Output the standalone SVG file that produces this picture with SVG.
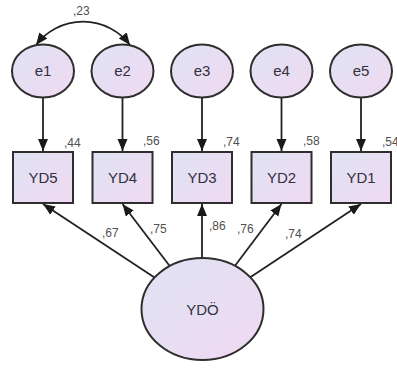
<svg xmlns="http://www.w3.org/2000/svg" width="397" height="370" viewBox="0 0 397 370">
<defs>
<linearGradient id="g" x1="0" y1="0" x2="1" y2="1">
<stop offset="0" stop-color="#dfe3f3"/>
<stop offset="1" stop-color="#f0d9f2"/>
</linearGradient>
<marker id="ah" markerUnits="userSpaceOnUse" markerWidth="14" markerHeight="12" refX="12" refY="5" orient="auto">
<path d="M0,0 L12,5 L0,10 z" fill="#1a1a1a"/>
</marker>
<marker id="ahs" markerUnits="userSpaceOnUse" markerWidth="14" markerHeight="12" refX="0" refY="5" orient="auto">
<path d="M12,0 L0,5 L12,10 z" fill="#1a1a1a"/>
</marker>
<style>
.n{fill:url(#g);stroke:#2e2e2e;stroke-width:2}
.t{font-family:"Liberation Sans",Arial,sans-serif;font-size:15px;fill:#33303f;text-anchor:middle}
.l{font-family:"Liberation Sans",Arial,sans-serif;font-size:12px;fill:#505050}
.c{stroke:#222;stroke-width:1.8;fill:none;marker-end:url(#ah)}
</style>
</defs>
<g id="connectors">
<path d="M36,45 A59,59 0 0,1 130,45" style="stroke:#222;stroke-width:1.6;fill:none;marker-end:url(#ah);marker-start:url(#ahs)"/>
<line class="c" x1="43" y1="98" x2="43" y2="151"/>
<line class="c" x1="122.5" y1="98" x2="122.5" y2="151"/>
<line class="c" x1="202" y1="98" x2="202" y2="151"/>
<line class="c" x1="281.5" y1="98" x2="281.5" y2="151"/>
<line class="c" x1="361" y1="98" x2="361" y2="151"/>
<line class="c" x1="154.5" y1="277.4" x2="43" y2="204"/>
<line class="c" x1="169.7" y1="266" x2="122.5" y2="204"/>
<line class="c" x1="202" y1="258" x2="202" y2="204"/>
<line class="c" x1="235" y1="265.8" x2="281.5" y2="204"/>
<line class="c" x1="250.3" y1="277.3" x2="361" y2="204"/>
<text class="l" x="73" y="15">,23</text>
<text class="l" x="102" y="237">,67</text>
<text class="l" x="150" y="233">,75</text>
<text class="l" x="209" y="230">,86</text>
<text class="l" x="237" y="233">,76</text>
<text class="l" x="285" y="238">,74</text>
</g>
<g id="e1"><ellipse class="n" cx="43" cy="71" rx="31" ry="26.5"/><text class="t" x="43" y="76">e1</text></g>
<g id="e2"><ellipse class="n" cx="122.5" cy="71" rx="31" ry="26.5"/><text class="t" x="122.5" y="76">e2</text></g>
<g id="e3"><ellipse class="n" cx="202" cy="71" rx="31" ry="26.5"/><text class="t" x="202" y="76">e3</text></g>
<g id="e4"><ellipse class="n" cx="281.5" cy="71" rx="31" ry="26.5"/><text class="t" x="281.5" y="76">e4</text></g>
<g id="e5"><ellipse class="n" cx="361" cy="71" rx="31" ry="26.5"/><text class="t" x="361" y="76">e5</text></g>
<g id="YD5"><rect class="n" x="13" y="152" width="60" height="51"/><text class="t" x="43" y="183">YD5</text><text class="l" x="64" y="147">,44</text></g>
<g id="YD4"><rect class="n" x="92.5" y="152" width="60" height="51"/><text class="t" x="122.5" y="183">YD4</text><text class="l" x="143" y="145">,56</text></g>
<g id="YD3"><rect class="n" x="172" y="152" width="60" height="51"/><text class="t" x="202" y="183">YD3</text><text class="l" x="223" y="146">,74</text></g>
<g id="YD2"><rect class="n" x="251.5" y="152" width="60" height="51"/><text class="t" x="281.5" y="183">YD2</text><text class="l" x="303" y="145">,58</text></g>
<g id="YD1"><rect class="n" x="331" y="152" width="60" height="51"/><text class="t" x="361" y="183">YD1</text><text class="l" x="382" y="146">,54</text></g>
<g id="YDO"><ellipse class="n" cx="202.5" cy="309" rx="61" ry="51"/><text class="t" x="202.5" y="315">YDÖ</text></g>
</svg>
